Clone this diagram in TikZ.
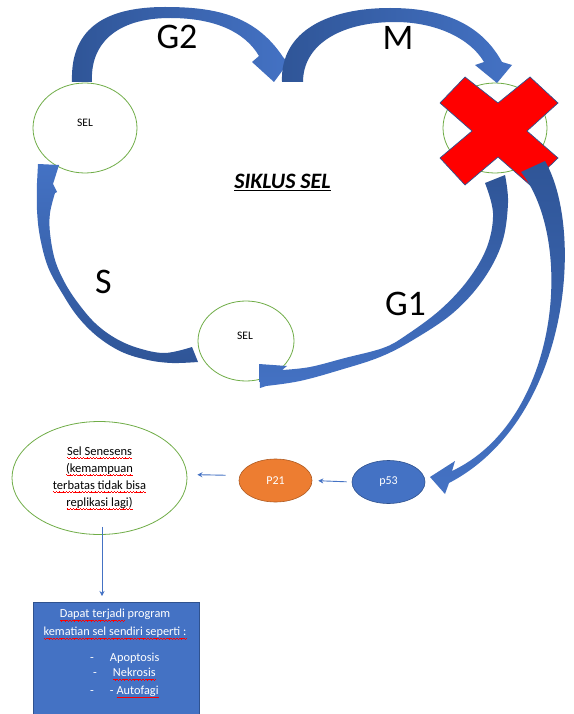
\documentclass[tikz,border=0pt]{standalone}
\usepackage{fontspec}
\setmainfont{Carlito}
\usetikzlibrary{shapes.geometric,arrows.meta,calc}

\definecolor{arrowlight}{HTML}{4472C4}
\definecolor{arrowdark}{HTML}{2F5597}
\definecolor{cellgreen}{HTML}{70AD47}
\definecolor{orangefill}{HTML}{ED7D31}
\definecolor{orangeedge}{HTML}{AE5A21}
\definecolor{blueedge}{HTML}{2F528F}

% red wavy underline (spell-check style), built from small stepped rules
\newsavebox\wavetext
\newcommand\wavepiece{\hbox{\textcolor{red}{%
  \rule[0.45pt]{0.8pt}{0.5pt}\rule[0.1pt]{0.8pt}{0.5pt}%
  \rule[-0.3pt]{0.8pt}{0.5pt}\rule[0.1pt]{0.8pt}{0.5pt}}}}
\newcommand\redwave[1]{\sbox\wavetext{#1}\leavevmode
  \rlap{\raisebox{-3.2pt}{\hbox to \wd\wavetext{\xleaders\wavepiece\hfill}}}\usebox\wavetext}

\begin{document}
\begin{tikzpicture}[x=1pt,y=-1pt,
  cell/.style={ellipse, draw=cellgreen, line width=0.8pt, inner sep=0pt},
  celltext/.style={font=\fontsize{11.5}{13}\selectfont, inner sep=0pt},
  phase/.style={font=\fontsize{36}{36}\selectfont, inner sep=0pt},
  marker/.style={ellipse, line width=0.6pt, minimum width=73pt, minimum height=43pt,
    text=white, font=\fontsize{12}{14}\selectfont, inner sep=0pt},
  linkarrow/.style={draw=arrowlight, line width=0.9pt, -{Stealth[length=5pt,width=5pt]}},
  boxtext/.style={text=white, font=\fontsize{12.3}{14}\selectfont, inner sep=0pt}
]
\useasboundingbox (0,0) rectangle (573,714);
\fill[white] (0,0) rectangle (573,714);

% the three cells of the cycle
\node[cell, minimum width=104pt, minimum height=90pt] (selA) at (85,128) {};
\node[cell, minimum width=104pt, minimum height=90pt] (selB) at (495,128) {};
\node[cell, minimum width=96pt, minimum height=80pt] (selC) at (246,341) {};
\node[celltext] (selAtext) at (85,123) {SEL};
\node[celltext] (selCtext) at (245,336) {SEL};

% red cross over the mitotic cell
\draw[fill=red, draw=blueedge, line width=0.7pt]
  (465,77) -- (498,103) -- (530,77) -- (558,103) -- (527,131) -- (558,158)
  -- (530,185) -- (498,157) -- (465,185) -- (440,158) -- (472,131) -- (440,103) -- cycle;

% G2 block arrow
\shade[left color=arrowdark, right color=arrowlight]
  (72,82) -- (92,82) .. controls (90,45) and (115,18) .. (170,18)
  .. controls (215,18) and (245,32) .. (259,56) -- (252,62) -- (274,82) -- (288,63) -- (283,57)
  .. controls (255,15) and (215,7) .. (165,7) .. controls (110,7) and (70,25) .. (72,82) -- cycle;

% M block arrow
\shade[left color=arrowdark, right color=arrowlight]
  (282,82) -- (303,82) .. controls (303,45) and (340,22) .. (395,22)
  .. controls (435,22) and (470,38) .. (484,62) -- (475,65) -- (497,83) -- (512,65) -- (502,62)
  .. controls (480,22) and (440,8) .. (390,8) .. controls (330,8) and (280,30) .. (282,82) -- cycle;

% G1 block arrow (ribbon thins out in the middle)
\shade[top color=arrowdark, bottom color=arrowlight]
  (485,183) -- (505,175)
  -- plot[smooth, tension=0.6] coordinates {(505,175) (508,203) (502,243) (483,280) (453,313)
       (413,340) (380,357) (340,370) (300,381) (266,386)}
  -- (260,388) -- (259,364) -- (287,366) -- (282,370)
  -- plot[smooth, tension=0.6] coordinates {(282,370) (310,367) (345,358) (383,348) (405,336)
       (440,310) (468,280) (487,247) (493,213) (485,183)}
  -- cycle;

% S block arrow
\shade[top color=arrowlight, bottom color=arrowdark]
  (198,362) -- (192,347)
  -- plot[smooth, tension=0.6] coordinates {(192,347) (165,353) (138,348) (115,338) (95,323)
       (78,303) (65,283) (55,260) (50,233) (50,213) (55,193)}
  -- (57,192) -- (53,184) -- (59,165) -- (38,164)
  -- plot[smooth, tension=0.6] coordinates {(37,183) (37,210) (40,237) (48,267) (62,293)
       (78,317) (98,337) (122,352) (148,360) (172,363) (198,362)}
  -- cycle;

% arrow from the blocked cell down to p53
\shade[top color=arrowdark, bottom color=arrowlight]
  (521,172) -- (545,161) .. controls (585,230) and (570,420) .. (449,483)
  -- (445,494) -- (430,477) -- (455,461) -- (452,471)
  .. controls (560,420) and (575,240) .. (521,172) -- cycle;

% phase labels and title
\node[phase] (lblG2) at (177,36.5) {G2};
\node[phase] (lblM) at (398,37.5) {M};
\node[phase] (lblS) at (103.5,282) {S};
\node[phase] (lblG1) at (405.5,303.5) {G1};
\node[font=\bfseries\itshape\fontsize{22}{22}\selectfont, inner sep=0pt, anchor=base]
  (title) at (282.5,189) {\underline{SIKLUS SEL}};

% senescence pathway
\node[ellipse, draw=cellgreen, line width=0.8pt, minimum width=175pt, minimum height=113pt,
  align=center, font=\fontsize{12.5}{17}\selectfont, inner sep=0pt] (sen) at (99.5,478)
  {\redwave{Sel Senesens}\\\redwave{(kemampuan}\\\redwave{terbatas tidak bisa}\\\redwave{replikasi lagi)}};
\node[marker, fill=orangefill, draw=orangeedge] (p21) at (275.5,480.5) {P21};
\node[marker, fill=arrowlight, draw=blueedge] (p53) at (388.5,482) {p53};

\draw[linkarrow, shorten <=5pt, shorten >=6pt] (p53.west) -- (p21.east);
\draw[linkarrow, shorten <=13pt, shorten >=10pt] ([yshift=5pt]p21.west) -- ([yshift=3.5pt]sen.east);

% outcome box
\node[rectangle, fill=arrowlight, draw=blueedge, line width=0.7pt, anchor=north west,
  minimum width=166pt, minimum height=118pt, inner sep=0pt] (box) at (33,602) {};
\coordinate (vtop) at ($(sen.south)+(2.5,-8)$);
\coordinate (vend) at (vtop |- box.north);
\draw[linkarrow, shorten >=6pt] (vtop) -- (vend);

\node[boxtext] (bt1) at (115,615) {\redwave{Dapat terjadi} program};
\node[boxtext] (bt2) at (115,633) {\redwave{kematian sel sendiri seperti :}};
\node[boxtext, anchor=west] (bt3) at (90,658) {-\hspace{16pt}Apoptosis};
\node[boxtext, anchor=west] (bt4) at (93,674) {-\hspace{16pt}\redwave{Nekrosis}};
\node[boxtext, anchor=west] (bt5) at (90,692) {-\hspace{16pt}- \redwave{Autofagi}};
\end{tikzpicture}
\end{document}
